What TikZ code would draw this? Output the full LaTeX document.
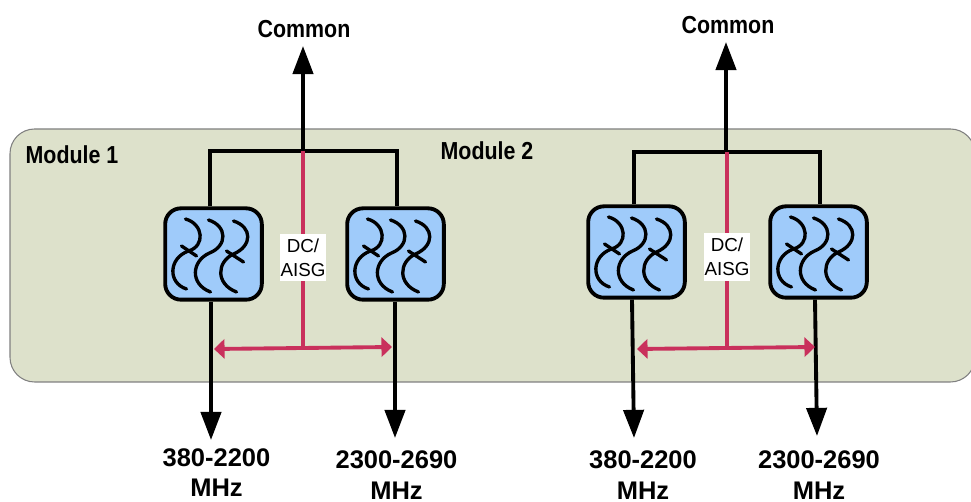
\documentclass[tikz,border=0pt]{standalone}
\usepackage{fontspec}
\setmainfont{Liberation Sans}
\usetikzlibrary{arrows.meta}
\definecolor{panelgreen}{HTML}{DDE1CB}
\definecolor{filterblue}{HTML}{9FCBFA}
\definecolor{dcred}{HTML}{C9305C}
\tikzset{
  bigarrow/.style={-{Triangle[width=11.5pt,length=16pt]}, line width=2.2pt, black},
  feedline/.style={line width=2.2pt, black},
  dcline/.style={line width=2.2pt, dcred},
  dcarrow/.style={{Triangle[width=11pt,length=6pt]}-{Triangle[width=11pt,length=6pt]}, line width=2.2pt, dcred},
  filterbox/.style={draw, line width=2.2pt, fill=filterblue, rounded corners=9pt, minimum width=55pt, minimum height=52pt, inner sep=0pt},
  dclabel/.style={fill=white, inner sep=0pt, minimum width=26pt, minimum height=27pt, align=center, font=\fontsize{10.7}{13.6}\selectfont},
  bandlabel/.style={font=\fontsize{14.5}{17.5}\selectfont\bfseries, align=center, inner sep=0pt},
  boldlabel/.style={font=\fontsize{14}{16}\selectfont\bfseries, inner sep=0pt, xscale=0.87, transform shape}
}
% three wavy lines inside a filter box
\newcommand{\filterwaves}[1]{
  \begin{scope}[shift={(#1)}, line width=1.9pt, line cap=round]
    \draw (-28,-35) .. controls (-10,-30) and (-8,-8) .. (-25,-3) .. controls (-45,4) and (-46,29) .. (-27,35);
    \draw (-5,-34) .. controls (14,-28) and (14,-8) .. (-4,-1) .. controls (-22,7) and (-24,30) .. (-3,38);
    \draw (20,-33) .. controls (39,-27) and (39,-8) .. (20,0) .. controls (3,8) and (2,30) .. (23,38);
    \draw (-32,-8) -- (-17,2);
    \draw (13,-3) -- (30,8);
  \end{scope}
}
\begin{document}
\begin{tikzpicture}[x=0.02cm, y=-0.02cm]
\useasboundingbox (0,0) rectangle (971,502);

% panel
\fill[panelgreen, draw=gray, line width=0.6pt, rounded corners=14pt] (10,129) rectangle (975,382);
\node[boldlabel] (module1) at (72,155) {Module 1};
\node[boldlabel] (module2) at (487,151) {Module 2};

% filters
\node[filterbox] (f1) at (213.5,254) {};
\node[filterbox] (f2) at (395.5,254) {};
\node[filterbox] (f3) at (636.5,252) {};
\node[filterbox] (f4) at (818.5,252) {};
\filterwaves{f1}
\filterwaves{f2}
\filterwaves{f3}
\filterwaves{f4}

% top side, module 1
\coordinate (tip1) at (303,46);
\coordinate (top1) at (303,151);
\node[boldlabel] (common1) at (304,29) {Common};
\draw[feedline] (f1.north -| 210,0) |- (top1) -| (f2.north -| 397,0);
\draw[bigarrow] (top1) -- (tip1);

% top side, module 2
\coordinate (tip2) at (726,42);
\coordinate (top2) at (726,152);
\node[boldlabel] (common2) at (728,25) {Common};
\draw[feedline] (f3.north -| 634,0) |- (top2) -| (f4.north -| 820,0);
\draw[bigarrow] (top2) -- (tip2);

% bottom side
\coordinate (out1) at (211,440);
\coordinate (out2) at (395,438);
\coordinate (out3) at (634,438);
\coordinate (out4) at (817,436);
\draw[bigarrow] (f1.south -| out1) -- (out1);
\draw[bigarrow] (f2.south -| out2) -- (out2);
\draw[bigarrow] (f3.south -| 632,0) -- (out3);
\draw[bigarrow] (f4.south -| 815,0) -- (out4);
\node[bandlabel] (band1) at (216.5,472.5) {380-2200\\MHz};
\node[bandlabel] (band2) at (396.5,475) {2300-2690\\MHz};
\node[bandlabel] (band3) at (643,475) {380-2200\\MHz};
\node[bandlabel] (band4) at (819,475) {2300-2690\\MHz};

% DC/AISG, module 1
\coordinate (dcl1) at (214,349);
\coordinate (dcr1) at (392,347);
\coordinate (dcb1) at (303,348);
\draw[dcline] (top1) -- (dcb1);
\draw[dcarrow] (dcl1) -- (dcr1);
\node[dclabel] (dc1) at (303,257.5) {DC/\\AISG};

% DC/AISG, module 2
\coordinate (dcl2) at (637,349);
\coordinate (dcr2) at (815,347);
\coordinate (dcb2) at (727,348);
\draw[dcline] (top2 -| dcb2) -- (dcb2);
\draw[dcarrow] (dcl2) -- (dcr2);
\node[dclabel] (dc2) at (727,257) {DC/\\AISG};
\end{tikzpicture}
\end{document}
